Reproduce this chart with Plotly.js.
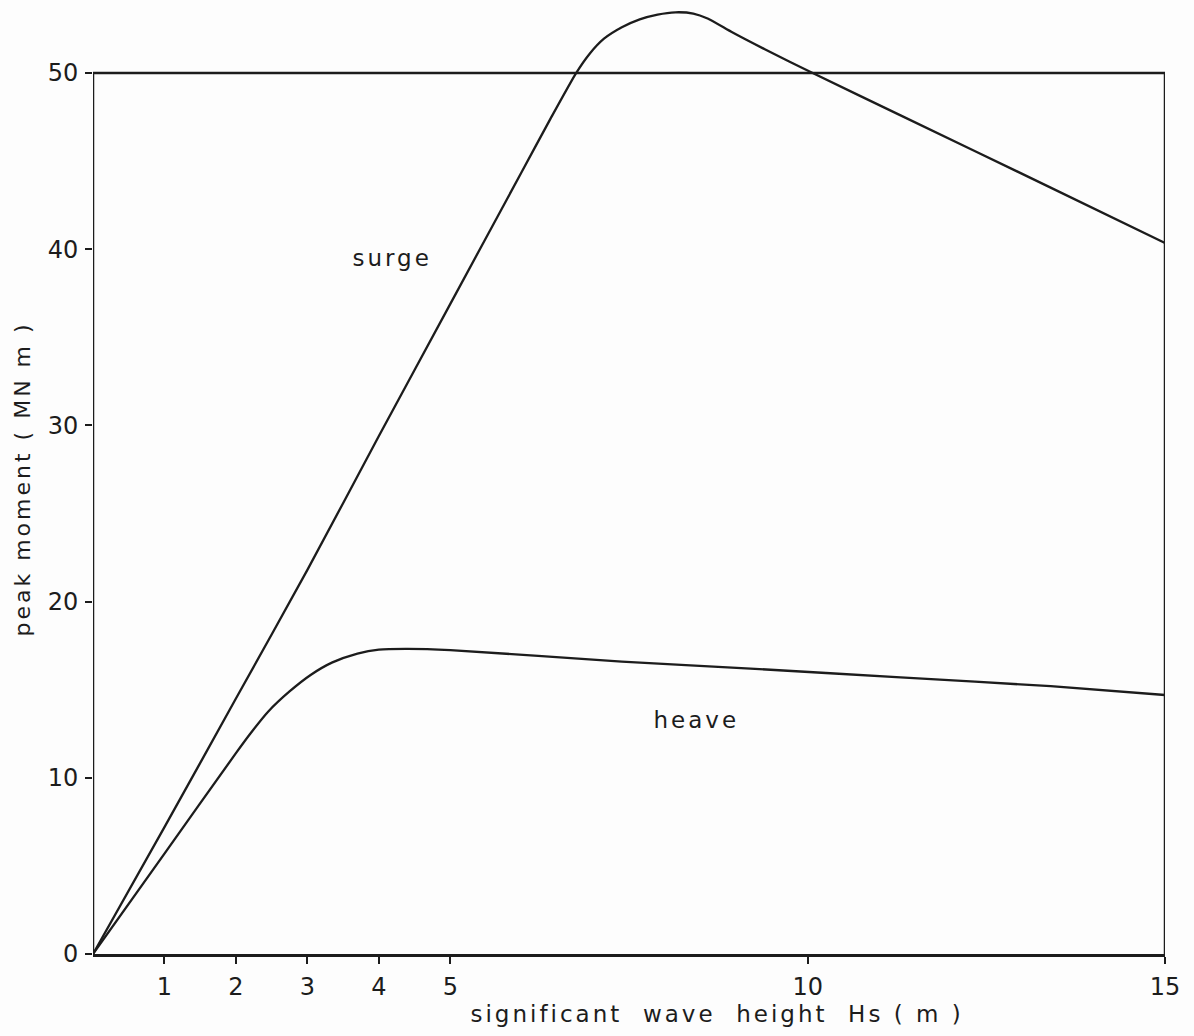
<!DOCTYPE html>
<html>
<head>
<meta charset="utf-8">
<script src="https://cdn.plot.ly/plotly-3.0.1.min.js"></script>
<style>
  html, body { margin: 0; padding: 0; background: #fdfdfd; }
  #chart { width: 1194px; height: 1036px; }
  #chart .annotation-text, #chart .ytitle { letter-spacing: 3px; }
</style>
</head>
<body>
<div id="chart"></div>
<script>
// Significant wave height Hs (m)
const surgeX = [0, 1, 2, 3, 4, 5, 6, 6.4, 6.76, 6.95, 7.15, 7.4, 7.65, 7.9, 8.15, 8.4, 8.6, 8.95, 9.4, 10.07, 11.3, 13.4, 15];
// Peak moment (MN m), surge
const surgeY = [0, 7.2, 14.5, 21.8, 29.4, 36.9, 44.4, 47.4, 50.0, 51.1, 51.95, 52.6, 53.05, 53.32, 53.45, 53.38, 53.1, 52.3, 51.35, 50.0, 47.6, 43.5, 40.35];

const heaveX = [0, 1, 2, 2.2, 2.45, 2.75, 3.05, 3.35, 3.7, 4.0, 4.4, 5, 7.4, 9.2, 11.3, 13.4, 15];
// Peak moment (MN m), heave
const heaveY = [0, 5.7, 11.4, 12.5, 13.75, 14.9, 15.85, 16.55, 17.05, 17.28, 17.32, 17.25, 16.6, 16.2, 15.7, 15.2, 14.7];

const xTicks = [1, 2, 3, 4, 5, 10, 15];
const yTicks = [0, 10, 20, 30, 40, 50];

const seriesNames = ['surge', 'heave'];
const labelPos = { surge: [4.19, 39.5], heave: [8.44, 13.3] };

const ink = '#1c1c1c';
const font = 'DejaVu Sans, Liberation Sans, sans-serif';

const traces = [
  { x: surgeX, y: surgeY, name: seriesNames[0], mode: 'lines',
    line: { color: ink, width: 2.3, shape: 'spline', smoothing: 0.6 }, hoverinfo: 'x+y' },
  { x: heaveX, y: heaveY, name: seriesNames[1], mode: 'lines',
    line: { color: ink, width: 2.3, shape: 'spline', smoothing: 0.6 }, hoverinfo: 'x+y' }
];

const NB = '\u00a0';
const xTitle = 'significant' + NB + NB + 'wave' + NB + NB + 'height' + NB + NB + 'Hs' + NB + '(' + NB + 'm' + NB + ')';
const yTitle = 'peak' + NB + 'moment' + NB + '(' + NB + 'MN' + NB + 'm' + NB + ')';

const layout = {
  width: 1194, height: 1036,
  margin: { l: 93, r: 29, t: 4, b: 82 },
  paper_bgcolor: '#fdfdfd', plot_bgcolor: '#fdfdfd',
  showlegend: false,
  font: { family: font, color: ink, size: 24 },
  xaxis: {
    range: [0, 15], tickvals: xTicks, ticktext: xTicks.map(String),
    ticks: 'outside', ticklen: 7, tickwidth: 2, tickcolor: ink,
    showline: true, linewidth: 2.5, linecolor: ink,
    showgrid: false, zeroline: false,
    tickfont: { size: 24, family: font, color: ink },
    ticklabelstandoff: 3
  },
  yaxis: {
    range: [0, 53.92], tickvals: yTicks, ticktext: yTicks.map(String),
    ticks: 'outside', ticklen: 7, tickwidth: 2, tickcolor: ink,
    showline: false, showgrid: false, zeroline: false,
    tickfont: { size: 24, family: font, color: ink },
    ticklabelstandoff: 2,
    title: { text: yTitle, standoff: 10, font: { size: 22, family: font, color: ink } }
  },
  shapes: [
    { type: 'line', xref: 'x', yref: 'y', x0: 0, x1: 0, y0: 0, y1: 50, line: { color: ink, width: 2.5 } },
    { type: 'line', xref: 'x', yref: 'y', x0: 0, x1: 15, y0: 50, y1: 50, line: { color: ink, width: 2.5 } },
    { type: 'line', xref: 'x', yref: 'y', x0: 15, x1: 15, y0: 0, y1: 50, line: { color: ink, width: 2.5 } }
  ],
  annotations: [
    { text: seriesNames[0], x: labelPos.surge[0], y: labelPos.surge[1], xref: 'x', yref: 'y',
      showarrow: false, font: { size: 23, family: font, color: ink } },
    { text: seriesNames[1], x: labelPos.heave[0], y: labelPos.heave[1], xref: 'x', yref: 'y',
      showarrow: false, font: { size: 23, family: font, color: ink } },
    { text: xTitle, xref: 'paper', yref: 'paper', x: (717 - 93) / (1194 - 93 - 29), y: 0,
      yanchor: 'middle', yshift: -60, showarrow: false, font: { size: 23, family: font, color: ink } }
  ]
};

Plotly.newPlot('chart', traces, layout, { displayModeBar: false, staticPlot: true });
</script>
</body>
</html>
